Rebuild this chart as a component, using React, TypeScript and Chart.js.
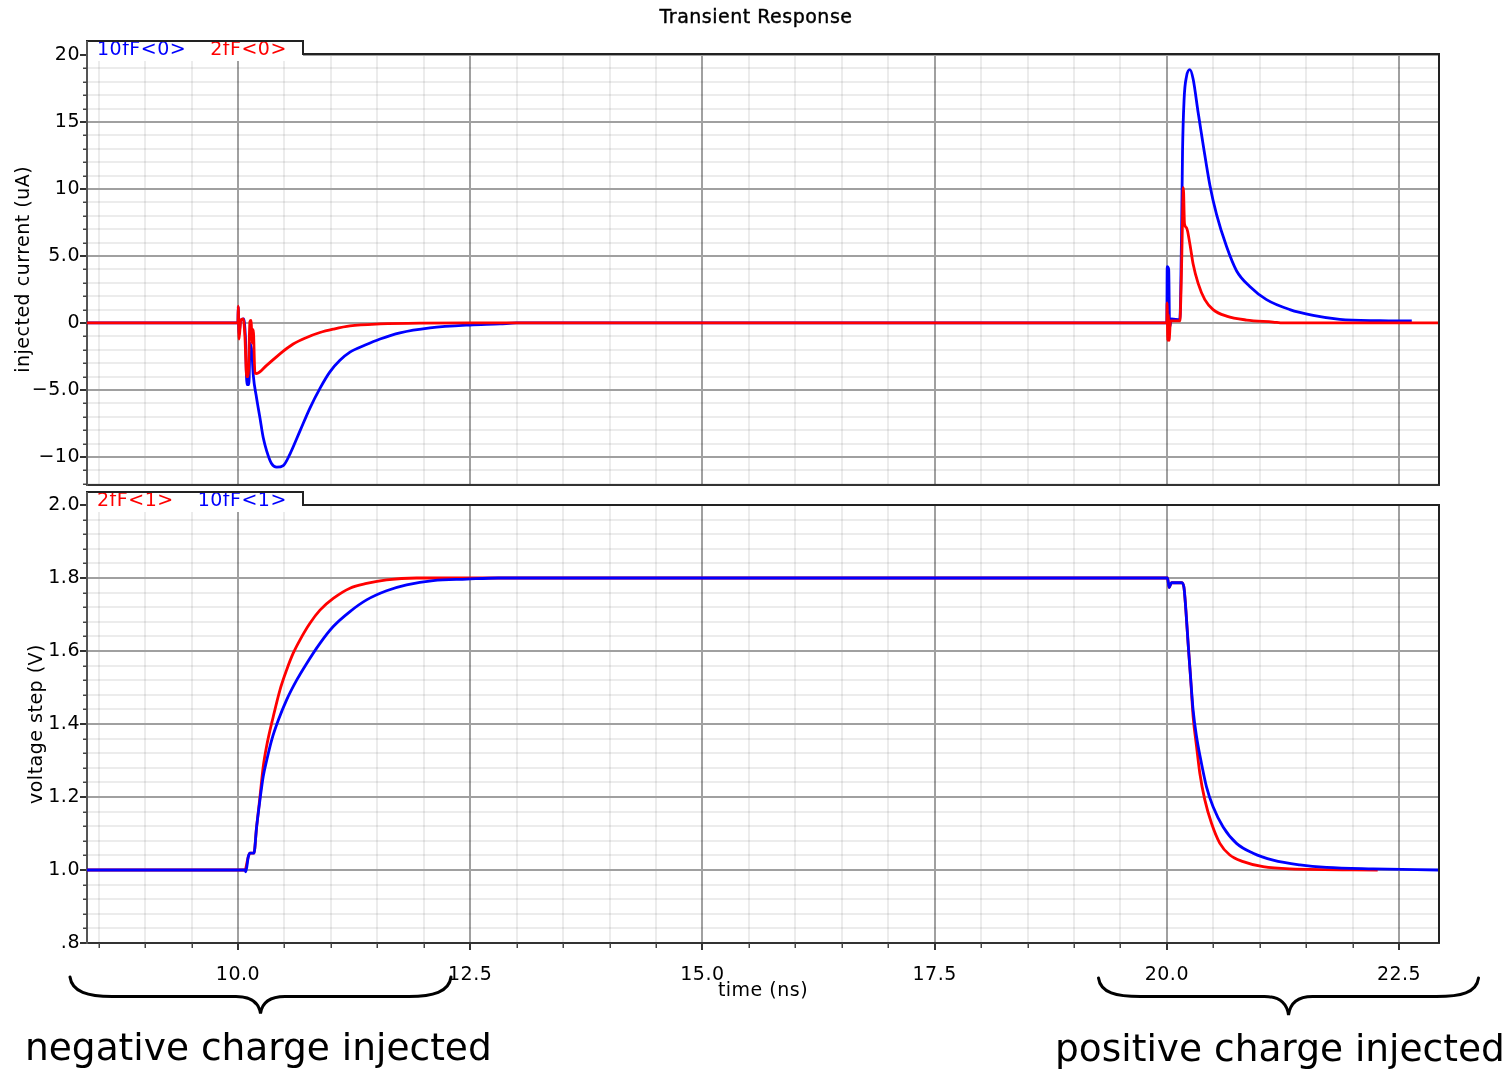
import React, { useEffect, useRef } from 'react';
import { Chart, registerables } from 'chart.js';

Chart.register(...registerables);

const FONT = 'DejaVu Sans';
const BLUE = '#0000ff';
const RED = '#ff0000';

// ---- axes ----
const xRange = [8.375, 22.93];
const xMinorStep = 0.5;
const xTickValues = [10, 12.5, 15, 17.5, 20, 22.5];
const xTickLabels = ['10.0', '12.5', '15.0', '17.5', '20.0', '22.5'];

const currentRange = [-12.06, 20.07];
const currentMinorStep = 1;
const currentTickValues = [20, 15, 10, 5, 0, -5, -10];
const currentTickLabels = ['20', '15', '10', '5.0', '0', '\u22125.0', '\u221210'];

const voltageRange = [0.8, 2.0];
const voltageMinorStep = 0.04;
const voltageTickValues = [2.0, 1.8, 1.6, 1.4, 1.2, 1.0, 0.8];
const voltageTickLabels = ['2.0', '1.8', '1.6', '1.4', '1.2', '1.0', '.8'];

// ---- series: [time (ns), value] ----
const current10fF: [number, number][] = [
  [8.375, 0], [10.0, 0], [10.003, 1.2], [10.012, -0.8], [10.03, 0.2], [10.06, 0.3], [10.08, -1.0],
  [10.097, -4.6], [10.118, -4.6], [10.13, -1.5], [10.15, -2.2], [10.165, -3.9], [10.201, -5.61],
  [10.237, -7.08], [10.272, -8.55], [10.309, -9.54], [10.363, -10.51], [10.417, -10.76], [10.488, -10.64],
  [10.56, -9.78], [10.667, -8.07], [10.775, -6.35], [10.883, -4.88], [10.99, -3.65], [11.098, -2.79],
  [11.206, -2.18], [11.37, -1.65], [11.53, -1.2], [11.744, -0.74], [12.067, -0.37], [12.497, -0.15], [12.82, -0.07],
  [13.0, 0], [20.0, 0], [20.004, 4.2], [20.02, 4.0], [20.03, -0.3], [20.05, 0.3], [20.14, 0.25],
  [20.158, 6.4], [20.169, 12.8], [20.186, 16.7], [20.212, 18.4], [20.248, 18.9], [20.283, 18.2],
  [20.337, 15.7], [20.391, 13.3], [20.463, 10.3], [20.535, 8.1], [20.643, 5.7], [20.75, 3.9],
  [20.893, 2.72], [21.073, 1.74], [21.324, 1.0], [21.575, 0.57], [21.862, 0.27], [22.293, 0.17], [22.637, 0.15],
];

const current2fF: [number, number][] = [
  [8.375, 0], [10.0, 0], [10.003, 1.25], [10.012, -1.2], [10.03, 0.2], [10.057, 0.3], [10.075, -1.0],
  [10.094, -4.0], [10.11, -4.0], [10.129, 0.1], [10.14, 0.2], [10.155, -1.5], [10.165, -0.5],
  [10.183, -3.75], [10.201, -3.77], [10.309, -3.16], [10.452, -2.3], [10.595, -1.57], [10.74, -1.08],
  [10.883, -0.71], [11.026, -0.46], [11.206, -0.22], [11.53, -0.07], [11.96, -0.01], [12.5, 0],
  [20.0, 0], [20.003, 1.5], [20.01, -1.3], [20.016, 0.6], [20.024, -1.3], [20.04, 0.15], [20.14, 0.15],
  [20.155, 3.0], [20.165, 6.4], [20.178, 10.1], [20.19, 7.4], [20.212, 7.1], [20.248, 5.9], [20.283, 4.4],
  [20.337, 2.96], [20.409, 1.74], [20.498, 1.0], [20.643, 0.51], [20.858, 0.22], [21.144, 0.07],
  [21.252, 0], [22.93, 0],
];

const voltage10fF: [number, number][] = [
  [8.375, 1.0], [10.075, 1.0], [10.085, 0.995], [10.111, 1.036], [10.129, 1.046], [10.172, 1.046],
  [10.201, 1.118], [10.237, 1.192], [10.272, 1.256], [10.309, 1.3], [10.363, 1.356], [10.434, 1.41],
  [10.524, 1.466], [10.632, 1.52], [10.74, 1.566], [10.883, 1.621], [11.026, 1.667], [11.206, 1.708],
  [11.385, 1.74], [11.6, 1.765], [11.816, 1.781], [12.102, 1.793], [12.462, 1.797], [12.8, 1.8],
  [20.007, 1.8], [20.025, 1.774], [20.05, 1.787], [20.158, 1.787], [20.183, 1.776], [20.205, 1.712],
  [20.229, 1.621], [20.255, 1.53], [20.283, 1.438], [20.32, 1.365], [20.373, 1.292], [20.427, 1.228],
  [20.498, 1.173], [20.606, 1.118], [20.75, 1.073], [20.929, 1.046], [21.144, 1.027], [21.432, 1.014],
  [21.719, 1.007], [22.22, 1.003], [22.93, 1.0],
];

const voltage2fF: [number, number][] = [
  [8.375, 1.0], [10.075, 1.0], [10.111, 1.036], [10.129, 1.046], [10.172, 1.046], [10.201, 1.118],
  [10.237, 1.2], [10.272, 1.283], [10.309, 1.34], [10.38, 1.42], [10.452, 1.493], [10.524, 1.548],
  [10.595, 1.594], [10.667, 1.63], [10.775, 1.676], [10.883, 1.712], [11.026, 1.744], [11.206, 1.772],
  [11.385, 1.785], [11.6, 1.795], [11.924, 1.8], [20.007, 1.8], [20.025, 1.774], [20.05, 1.787],
  [20.158, 1.787], [20.183, 1.776], [20.205, 1.712], [20.229, 1.621], [20.255, 1.53], [20.283, 1.42],
  [20.32, 1.338], [20.355, 1.265], [20.409, 1.192], [20.481, 1.128], [20.571, 1.073], [20.678, 1.041],
  [20.822, 1.023], [21.036, 1.009], [21.324, 1.003], [22.27, 1.0],
];

// ---- helpers ----
function makeTicks(min: number, max: number, step: number) {
  const out: { value: number }[] = [];
  const start = Math.ceil(min / step - 1e-9);
  const end = Math.floor(max / step + 1e-9);
  for (let i = start; i <= end; i++) out.push({ value: Math.round(i * step * 1e6) / 1e6 });
  return out;
}
function labelIndex(v: number, values: number[]) {
  return values.findIndex((t) => Math.abs(t - v) < 1e-6);
}
const MAJOR_GRID = '#a0a0a0';
const MINOR_GRID = 'rgba(0,0,0,0.075)';
const font = { family: FONT, size: 19 };

function yScale(range: number[], step: number, values: number[], labels: string[], title: string, titlePad: number) {
  return {
    type: 'linear',
    position: 'left',
    min: range[0],
    max: range[1],
    afterBuildTicks: (s: any) => { s.ticks = makeTicks(range[0], range[1], step); },
    afterFit: (s: any) => { s.width = 87; },
    ticks: {
      autoSkip: false,
      padding: 0,
      color: '#000',
      font,
      callback: (v: number) => { const i = labelIndex(v, values); return i >= 0 ? labels[i] : ''; },
    },
    grid: {
      color: (c: any) => (labelIndex(c.tick?.value, values) >= 0 ? MAJOR_GRID : MINOR_GRID),
      lineWidth: 2,
      tickLength: 7,
      tickWidth: 2,
      tickColor: (c: any) => (labelIndex(c.tick?.value, values) >= 0 ? '#333' : 'rgba(0,0,0,0)'),
    },
    border: { display: true, color: '#555', width: 2 },
    title: { display: true, text: title, color: '#000', font, padding: { top: titlePad, bottom: 0 } },
  };
}

function xScale(showLabels: boolean) {
  return {
    type: 'linear',
    position: 'bottom',
    min: xRange[0],
    max: xRange[1],
    afterBuildTicks: (s: any) => { s.ticks = makeTicks(xRange[0], xRange[1], xMinorStep); },
    afterFit: (s: any) => { s.height = showLabels ? 77 : 0; },
    ticks: {
      display: showLabels,
      autoSkip: false,
      maxRotation: 0,
      minRotation: 0,
      padding: 14,
      color: '#000',
      font,
      callback: (v: number) => { const i = labelIndex(v, xTickValues); return i >= 0 ? xTickLabels[i] : ''; },
    },
    grid: {
      color: (c: any) => (labelIndex(c.tick?.value, xTickValues) >= 0 ? MAJOR_GRID : MINOR_GRID),
      lineWidth: 2,
      drawTicks: showLabels,
      tickLength: 7,
      tickWidth: 2,
      tickColor: (c: any) => (labelIndex(c.tick?.value, xTickValues) >= 0 ? '#333' : 'rgba(0,0,0,0)'),
    },
    border: { display: true, color: '#333', width: 2 },
    title: {
      display: showLabels,
      text: 'time (ns)',
      color: '#000',
      font,
      padding: { top: 0, bottom: 18 },
    },
  };
}

function tabGeometry(chart: any, items: { text: string; color: string }[]) {
  const { ctx, chartArea: a } = chart;
  ctx.save();
  ctx.letterSpacing = '0.5px';
  ctx.font = `19px "${FONT}"`;
  let x = a.left + 10;
  const xs: number[] = [];
  items.forEach((it) => {
    xs.push(x);
    x += ctx.measureText(it.text).width + 24;
  });
  ctx.restore();
  return { xs, right: Math.round(x - 24 + 16), top: a.top - 13 };
}

const panelPlugin = {
  id: 'panel',
  beforeDraw(chart: any) {
    chart.ctx.letterSpacing = '0.5px';
  },
  beforeDatasetsDraw(chart: any, _args: any, opts: any) {
    const { ctx, chartArea: a } = chart;
    const g = tabGeometry(chart, opts.items);
    ctx.save();
    ctx.fillStyle = '#ffffff';
    ctx.fillRect(a.left + 1, g.top + 1, g.right - a.left - 1, a.top + 7 - g.top - 1);
    ctx.restore();
  },
  afterDraw(chart: any, _args: any, opts: any) {
    const { ctx, chartArea: a } = chart;
    const g = tabGeometry(chart, opts.items);
    ctx.save();
    ctx.letterSpacing = '0.5px';
    ctx.font = `19px "${FONT}"`;
    ctx.textBaseline = 'middle';
    ctx.textAlign = 'left';
    opts.items.forEach((it: any, i: number) => {
      ctx.fillStyle = it.color;
      ctx.fillText(it.text, g.xs[i], g.top + 8.7);
    });
    // frame + tab
    ctx.lineWidth = 2;
    ctx.strokeStyle = '#222';
    ctx.beginPath();
    ctx.moveTo(a.left - 1, g.top);
    ctx.lineTo(g.right, g.top);
    ctx.lineTo(g.right, a.top);
    ctx.lineTo(a.right, a.top);
    ctx.lineTo(a.right, a.bottom);
    ctx.stroke();
    ctx.strokeStyle = '#555';
    ctx.beginPath();
    ctx.moveTo(a.left, g.top);
    ctx.lineTo(a.left, a.top);
    ctx.stroke();
    // minor ticks
    ctx.strokeStyle = '#444';
    ctx.lineWidth = 1.5;
    const ys = chart.scales.y;
    ys.ticks.forEach((t: any) => {
      if (!t.label) {
        const py = Math.round(ys.getPixelForValue(t.value)) + 0.25;
        ctx.beginPath();
        ctx.moveTo(a.left - 4, py);
        ctx.lineTo(a.left, py);
        ctx.stroke();
      }
    });
    if (opts.xMinorTicks) {
      const xs = chart.scales.x;
      xs.ticks.forEach((t: any) => {
        if (!t.label) {
          const px = Math.round(xs.getPixelForValue(t.value)) + 0.25;
          ctx.beginPath();
          ctx.moveTo(px, a.bottom);
          ctx.lineTo(px, a.bottom + 5);
          ctx.stroke();
        }
      });
    }
    ctx.restore();
  },
};

const toPts = (arr: [number, number][]) => arr.map(([x, y]) => ({ x, y }));
const line = (label: string, arr: [number, number][], color: string) => ({
  label,
  data: toPts(arr),
  borderColor: color,
  backgroundColor: color,
  borderWidth: 2.8,
  pointRadius: 0,
  cubicInterpolationMode: 'monotone',
  fill: false,
});

function makeOptions(yOpts: any, showX: boolean, padding: any, items: any, xMinorTicks: boolean) {
  return {
    responsive: false,
    animation: false,
    devicePixelRatio: 1,
    layout: { padding, autoPadding: false },
    plugins: {
      legend: { display: false },
      tooltip: { enabled: false },
      title: { display: false },
      panel: { items, xMinorTicks },
    },
    scales: { x: xScale(showX), y: yOpts },
  };
}

export default function App() {
  const topRef = useRef<HTMLCanvasElement>(null);
  const botRef = useRef<HTMLCanvasElement>(null);

  useEffect(() => {
    const top = new Chart(topRef.current as HTMLCanvasElement, {
      type: 'line',
      data: {
        datasets: [line('2fF<0>', current2fF, RED), line('10fF<0>', current10fF, BLUE)],
      },
      options: makeOptions(
        yScale(currentRange, currentMinorStep, currentTickValues, currentTickLabels, 'injected current (uA)', 13),
        false,
        { left: 0, right: 70, top: 54, bottom: 5 },
        [{ text: '10fF<0>', color: BLUE }, { text: '2fF<0>', color: RED }],
        false,
      ) as any,
      plugins: [panelPlugin as any],
    });
    const bot = new Chart(botRef.current as HTMLCanvasElement, {
      type: 'line',
      data: {
        datasets: [line('10fF<1>', voltage10fF, BLUE), line('2fF<1>', voltage2fF, RED)],
      },
      options: makeOptions(
        yScale(voltageRange, voltageMinorStep, voltageTickValues, voltageTickLabels, 'voltage step (V)', 26),
        true,
        { left: 0, right: 70, top: 25, bottom: 0 },
        [{ text: '2fF<1>', color: RED }, { text: '10fF<1>', color: BLUE }],
        true,
      ) as any,
      plugins: [panelPlugin as any],
    });
    return () => {
      top.destroy();
      bot.destroy();
    };
  }, []);

  return (
    <div style={{ position: 'absolute', left: 0, top: 0, width: 1509, height: 1071, overflow: 'hidden', background: '#fff' }}>
      <canvas ref={topRef} width={1509} height={496} style={{ position: 'absolute', left: 0, top: 0, width: 1509, height: 496 }} />
      <canvas ref={botRef} width={1509} height={540} style={{ position: 'absolute', left: 0, top: 480, width: 1509, height: 540 }} />
      <svg width={1509} height={1071} style={{ position: 'absolute', left: 0, top: 0, pointerEvents: 'none' }}>
        <text x={756} y={23} textAnchor="middle" fontFamily={FONT} fontSize={19} letterSpacing={0.5} fill="#000" stroke="#000" strokeWidth={0.4}>
          Transient Response
        </text>
        <path
          d="M 70 977 C 72 992 88 996.5 112 996.5 L 236 996.5 C 252 996.5 259 1003 260.5 1013.5 C 262 1003 269 996.5 285 996.5 L 409 996.5 C 433 996.5 449 992 451 977"
          fill="none" stroke="#000" strokeWidth={3} strokeLinecap="round"
        />
        <path
          d="M 1098.5 978 C 1100.5 993 1116.5 996.5 1140.5 996.5 L 1264.5 996.5 C 1280.5 996.5 1287 1004 1288.5 1015 C 1290 1004 1296.5 996.5 1312.5 996.5 L 1436.5 996.5 C 1460.5 996.5 1476.5 993 1478.5 978"
          fill="none" stroke="#000" strokeWidth={3} strokeLinecap="round"
        />
        <text x={25} y={1060} fontFamily={FONT} fontSize={37.5} fill="#000">negative charge injected</text>
        <text x={1055} y={1061} fontFamily={FONT} fontSize={37.5} fill="#000">positive charge injected</text>
      </svg>
    </div>
  );
}
